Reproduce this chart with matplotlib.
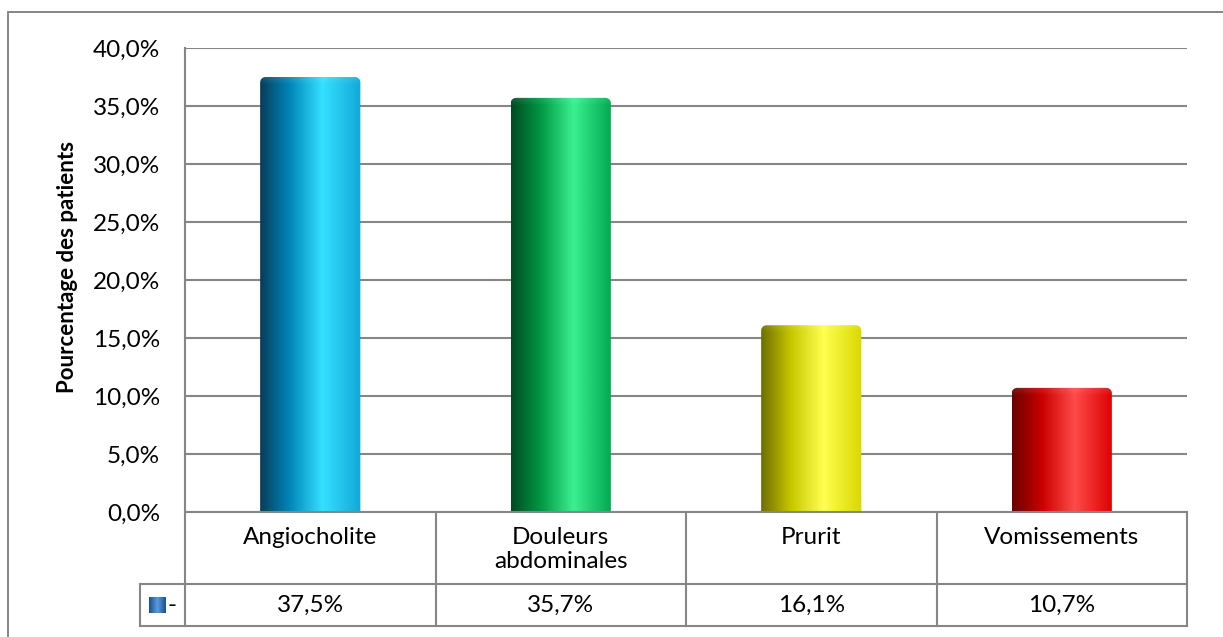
import numpy as np
import matplotlib
matplotlib.use("Agg")
import matplotlib.pyplot as plt
from matplotlib.colors import LinearSegmentedColormap
from matplotlib.patches import PathPatch, Rectangle
from matplotlib.path import Path
from matplotlib.ticker import FuncFormatter, MultipleLocator

categories = ["Angiocholite", "Douleurs\nabdominales", "Prurit", "Vomissements"]
values = [37.5, 35.7, 16.1, 10.7]
value_labels = ["37,5%", "35,7%", "16,1%", "10,7%"]
ylabel = "Pourcentage des patients"

# dark edge -> mid -> highlight -> mid, across the cylinder
shades = [
    ["#063d5a", "#0088bb", "#35e0ff", "#12a8d8"],
    ["#004a22", "#009944", "#3cf090", "#00a850"],
    ["#6e6e00", "#c8c800", "#ffff50", "#d8d800"],
    ["#6a0000", "#cc0000", "#ff4a4a", "#dd0000"],
]
stops = [0.0, 0.3, 0.62, 1.0]

GRID = "#868686"
FS = 17.5
W, H = 1223, 637
plt.rcParams["font.family"] = ["Lato", "DejaVu Sans"]

fig = plt.figure(figsize=(W / 100, H / 100), dpi=100)

def px_rect(x0, y0, x1, y1):
    # pixel box (top-left origin) -> figure fractions
    return [x0 / W, 1 - y1 / H, (x1 - x0) / W, (y1 - y0) / H]

# outer chart frame
fig.add_artist(Rectangle((8 / W, -0.05), 1.1, 1 - 12 / H + 0.05,
                         transform=fig.transFigure, fill=False,
                         edgecolor=GRID, lw=1.4))

ax = fig.add_axes(px_rect(185, 48, 1187, 512))
x = np.arange(len(values))
bars = ax.bar(x, values, width=0.4, color="none", edgecolor="none")

rx, ry = 0.022, 0.45
t = np.linspace(0, np.pi / 2, 12)
for bar, cols in zip(bars, shades):
    x0, w, h = bar.get_x(), bar.get_width(), bar.get_height()
    cmap = LinearSegmentedColormap.from_list("cyl", list(zip(stops, cols)))
    grad = np.linspace(0, 1, 256).reshape(1, -1)
    im = ax.imshow(grad, cmap=cmap, extent=(x0, x0 + w, 0, h), aspect="auto",
                   interpolation="bicubic", zorder=3)
    # rounded top corners
    verts = np.vstack([[x0, 0], [x0 + w, 0],
                       np.column_stack([x0 + w - rx + rx * np.cos(t), h - ry + ry * np.sin(t)]),
                       np.column_stack([x0 + rx - rx * np.cos(t[::-1]), h - ry + ry * np.sin(t[::-1])]),
                       [x0, 0]])
    clip = PathPatch(Path(verts), transform=ax.transData, facecolor="none", edgecolor="none")
    ax.add_patch(clip)
    im.set_clip_path(clip)
    # faint sheen on the top face
    top = np.linspace(0, 1, 32).reshape(-1, 1)
    sheen = ax.imshow(top, cmap=LinearSegmentedColormap.from_list(
        "sheen", [(1, 1, 1, 0.0), (1, 1, 1, 0.12)]), extent=(x0, x0 + w, h - 0.7, h),
        aspect="auto", origin="lower", zorder=4)
    sheen.set_clip_path(clip)

ax.set_xlim(-0.5, len(values) - 0.5)
ax.set_ylim(0, 40)
ax.yaxis.set_major_locator(MultipleLocator(5))
ax.yaxis.set_major_formatter(FuncFormatter(lambda v, p: f"{v:.1f}%".replace(".", ",")))
ax.grid(axis="y", color=GRID, lw=1.5)
ax.set_axisbelow(True)
ax.set_xticks([])
ax.tick_params(axis="y", length=0, pad=18, labelsize=FS)
for s in ["top", "right", "bottom"]:
    ax.spines[s].set_visible(False)
ax.spines["left"].set_color(GRID)
ax.spines["left"].set_linewidth(1.5)
ax.set_ylabel(ylabel, fontsize=16, fontweight="bold")
ax.yaxis.set_label_coords(-0.107, 0.527)

# data table under the plot, same x scale as the bars
tab = fig.add_axes(px_rect(185, 512, 1187, 626))
tab.set_xlim(-0.5, len(values) - 0.5)
tab.set_ylim(0, 114)
tab.axis("off")
lk = dict(color=GRID, lw=1.5, clip_on=False)
tab.plot([-0.5, 3.5], [114, 114], **lk)
tab.plot([-0.68, 3.5], [42, 42], **lk)
tab.plot([-0.68, 3.5], [0, 0], **lk)
tab.plot([-0.68, -0.68], [0, 42], **lk)
for b in np.arange(-0.5, 4, 1):
    tab.plot([b, b], [0, 114], **lk)
for i, (c, v) in enumerate(zip(categories, value_labels)):
    tab.text(i, 99, c, ha="center", va="top", fontsize=FS, linespacing=1.15)
    tab.text(i, 21, v, ha="center", va="center", fontsize=FS)

# legend key in the table row
key_cmap = LinearSegmentedColormap.from_list("key", ["#1b4f8a", "#5a9ae0", "#1b4f8a"])
tab.imshow(np.linspace(0, 1, 64).reshape(1, -1), cmap=key_cmap,
           extent=(-0.645, -0.58, 13, 29), aspect="auto", zorder=3, clip_on=False)
tab.text(-0.552, 21, "-", ha="center", va="center", fontsize=FS)
tab.set_xlim(-0.5, len(values) - 0.5)
tab.set_ylim(0, 114)

fig.savefig("out.png", dpi=100)
